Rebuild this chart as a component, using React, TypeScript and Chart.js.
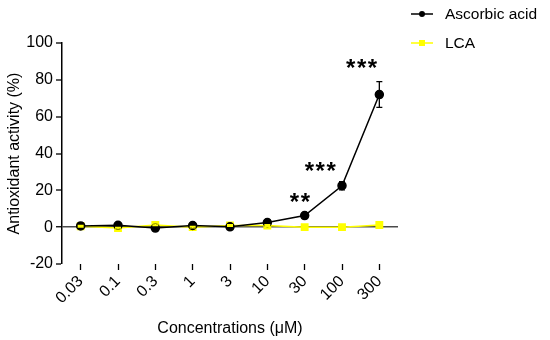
import React, { useEffect, useRef } from "react";
import { Chart, registerables } from "chart.js";

Chart.register(...registerables);

const categories = ["0.03", "0.1", "0.3", "1", "3", "10", "30", "100", "300"];
const ascorbic = [0.7, 1.0, -0.5, 0.9, 0.2, 2.5, 6.3, 22.5, 72];
const ascorbicErr = [0.5, 0.4, 0.5, 0.5, 0.4, 1.5, 0.6, 2.2, 7];
const lca = [0.5, -0.5, 1.2, 0.0, 0.9, 0.9, 0.0, 0.0, 1.2];
const lcaErr = [0.4, 0.4, 0.4, 0.4, 0.4, 0.4, 0.3, 0.3, 0.4];
const starLabels = ["", "", "", "", "", "", "**", "***", "***"];
const starValues = [null, null, null, null, null, null, 16.6, 33.4, 89.5];
const starShift = [0, 0, 0, 0, 0, 0, -4, -21, -17];
const yTicks = [-20, 0, 20, 40, 60, 80, 100];

const FONT = "'Liberation Sans', Arial, Helvetica, sans-serif";
const BLACK = "#000000";
const YELLOW = "#FFFF00";

const errorBars = {
  id: "errorBars",
  afterDatasetsDraw(chart: any) {
    const ctx = chart.ctx;
    const y = chart.scales.y;
    chart.data.datasets.forEach((ds: any, di: number) => {
      const meta = chart.getDatasetMeta(di);
      const errs: number[] = ds.errors || [];
      ctx.save();
      ctx.strokeStyle = ds.borderColor;
      ctx.lineWidth = 1.3;
      meta.data.forEach((pt: any, i: number) => {
        const v = ds.data[i];
        const e = errs[i];
        if (v == null || !e) return;
        const yt = y.getPixelForValue(v + e);
        const yb = y.getPixelForValue(v - e);
        const x = pt.x;
        ctx.beginPath();
        ctx.moveTo(x, yt);
        ctx.lineTo(x, yb);
        ctx.moveTo(x - 3, yt);
        ctx.lineTo(x + 3, yt);
        ctx.moveTo(x - 3, yb);
        ctx.lineTo(x + 3, yb);
        ctx.stroke();
      });
      ctx.restore();
    });
  },
};

const stars = {
  id: "stars",
  afterDraw(chart: any) {
    const ctx = chart.ctx;
    const xs = chart.scales.x;
    const ys = chart.scales.y;
    ctx.save();
    ctx.fillStyle = "#000";
    ctx.font = `bold 24px ${FONT}`;
    (ctx as any).letterSpacing = "1.5px";
    ctx.textAlign = "center";
    ctx.textBaseline = "alphabetic";
    starLabels.forEach((s, i) => {
      const v = starValues[i];
      if (!s || v == null) return;
      const x = xs.getPixelForValue(i) + starShift[i];
      const yc = ys.getPixelForValue(v);
      ctx.fillText(s, x, yc + 13.7);
    });
    ctx.restore();
  },
};

const sideLegend = {
  id: "sideLegend",
  afterDraw(chart: any) {
    const ctx = chart.ctx;
    const area = chart.chartArea;
    const x0 = area.right + 13;
    const rows = [area.top - 29, area.top];
    ctx.save();
    chart.data.datasets.forEach((ds: any, i: number) => {
      const yy = rows[i];
      ctx.strokeStyle = ds.borderColor;
      ctx.lineWidth = 1.5;
      ctx.beginPath();
      ctx.moveTo(x0, yy);
      ctx.lineTo(x0 + 22, yy);
      ctx.stroke();
      ctx.fillStyle = ds.pointBackgroundColor;
      if (ds.pointStyle === "rect") {
        ctx.fillRect(x0 + 11 - 3, yy - 3, 6, 6);
      } else {
        ctx.beginPath();
        ctx.arc(x0 + 11, yy, 3, 0, Math.PI * 2);
        ctx.fill();
      }
      ctx.fillStyle = "#000";
      ctx.font = `15.5px ${FONT}`;
      ctx.textAlign = "left";
      ctx.textBaseline = "middle";
      ctx.fillText(ds.label, x0 + 34, yy + 1);
    });
    ctx.restore();
  },
};

export default function App() {
  const ref = useRef<HTMLCanvasElement | null>(null);
  useEffect(() => {
    if (!ref.current) return;
    const chart = new Chart(ref.current, {
      type: "line",
      data: {
        labels: categories,
        datasets: [
          {
            label: "Ascorbic acid",
            data: ascorbic,
            errors: ascorbicErr,
            borderColor: BLACK,
            backgroundColor: BLACK,
            pointBackgroundColor: BLACK,
            pointBorderColor: BLACK,
            pointStyle: "circle",
            pointRadius: 4,
            borderWidth: 1.5,
            tension: 0,
          } as any,
          {
            label: "LCA",
            data: lca,
            errors: lcaErr,
            borderColor: YELLOW,
            backgroundColor: YELLOW,
            pointBackgroundColor: YELLOW,
            pointBorderColor: YELLOW,
            pointStyle: "rect",
            pointRadius: 4.5,
            borderWidth: 1.5,
            tension: 0,
          } as any,
        ],
      },
      options: {
        animation: false,
        responsive: false,
        events: [],
        layout: { padding: { left: 0, top: 43, right: 152, bottom: 0 } },
        plugins: {
          legend: { display: false },
          tooltip: { enabled: false },
        },
        scales: {
          x: {
            type: "category",
            offset: true,
            border: { display: false },
            grid: {
              display: true,
              drawOnChartArea: false,
              drawTicks: true,
              tickLength: 6,
              tickColor: "#000",
              tickWidth: 1.3,
              offset: false,
            },
            ticks: {
              color: "#000",
              font: { family: FONT, size: 16 },
              minRotation: 45,
              maxRotation: 45,
              padding: 2,
              autoSkip: false,
            },
            title: {
              display: true,
              text: "Concentrations (μM)",
              color: "#000",
              font: { family: FONT, size: 16 },
              padding: { top: 0, bottom: 1.4 },
            },
            afterFit: (s: any) => {
              s.height = 76;
            },
          },
          y: {
            min: -20,
            max: 100,
            border: { display: true, color: "#000", width: 1.5 },
            grid: {
              drawOnChartArea: true,
              drawTicks: true,
              tickLength: 6,
              tickColor: "#000",
              tickWidth: 1.3,
              color: (c: any) => (c.tick && c.tick.value === 0 ? "#4a4a4a" : "rgba(0,0,0,0)"),
              lineWidth: (c: any) => (c.tick && c.tick.value === 0 ? 1.5 : 0),
            },
            afterBuildTicks: (s: any) => {
              s.ticks = yTicks.map((v) => ({ value: v }));
            },
            ticks: {
              color: "#000",
              font: { family: FONT, size: 16 },
              padding: 3,
            },
            title: {
              display: true,
              text: "Antioxidant activity (%)",
              color: "#000",
              font: { family: FONT, size: 16 },
              padding: { top: 4.5, bottom: 0 },
            },
            afterFit: (s: any) => {
              s.width = 62;
            },
          },
        },
      },
      plugins: [errorBars, stars, sideLegend],
    });
    return () => chart.destroy();
  }, []);
  return (
    <div style={{ position: "absolute", left: 0, top: 0, width: 550, height: 340, background: "#fff" }}>
      <canvas ref={ref} width={550} height={340} style={{ width: 550, height: 340, display: "block" }} />
    </div>
  );
}
